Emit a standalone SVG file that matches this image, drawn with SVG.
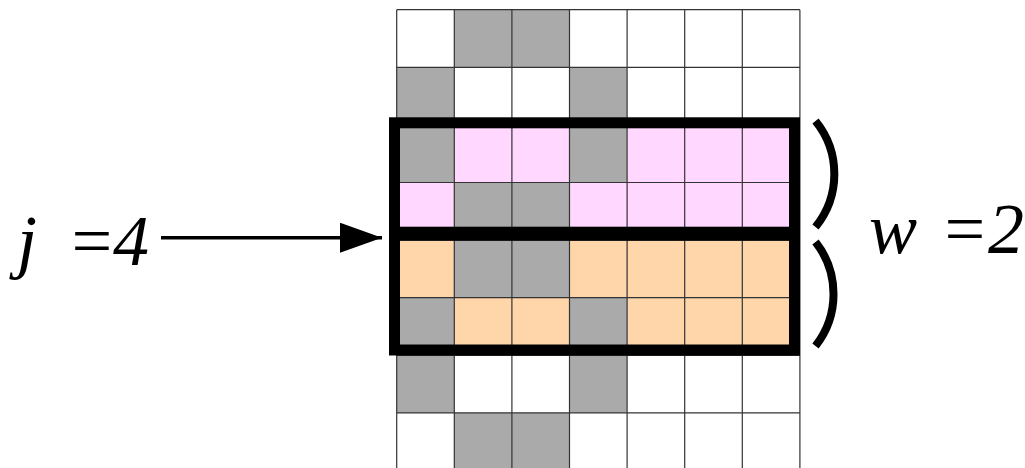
<svg xmlns="http://www.w3.org/2000/svg" width="1025" height="468" viewBox="0 0 1025 468">
<style>
.w{fill:#ffffff}
.g{fill:#aaaaaa}
.p{fill:#ffd7ff}
.o{fill:#ffd5aa}
.grid line{stroke:#333333;stroke-width:1.2}
.box{fill:none;stroke:#000000;stroke-width:11}
.brace{fill:none;stroke:#000000;stroke-width:8}
</style>
<defs>
<marker id="ah" markerUnits="userSpaceOnUse" markerWidth="44" markerHeight="30" refX="42" refY="15" orient="auto">
<path d="M0,0 L42,15 L0,30 Z" fill="#000000"/>
</marker>
</defs>
<rect width="1025" height="468" fill="#ffffff"/>
<g id="cells">
<rect class="w" x="396.7" y="9.7" width="57.6" height="57.6"/>
<rect class="g" x="454.3" y="9.7" width="57.6" height="57.6"/>
<rect class="g" x="511.9" y="9.7" width="57.6" height="57.6"/>
<rect class="w" x="569.5" y="9.7" width="230.4" height="57.6"/>
<rect class="g" x="396.7" y="67.3" width="57.6" height="57.6"/>
<rect class="w" x="454.3" y="67.3" width="115.2" height="57.6"/>
<rect class="g" x="569.5" y="67.3" width="57.6" height="57.6"/>
<rect class="w" x="627.1" y="67.3" width="172.8" height="57.6"/>
<rect class="g" x="396.7" y="124.9" width="57.6" height="57.6"/>
<rect class="p" x="454.3" y="124.9" width="115.2" height="57.6"/>
<rect class="g" x="569.5" y="124.9" width="57.6" height="57.6"/>
<rect class="p" x="627.1" y="124.9" width="172.8" height="57.6"/>
<rect class="p" x="396.7" y="182.5" width="57.6" height="57.6"/>
<rect class="g" x="454.3" y="182.5" width="115.2" height="57.6"/>
<rect class="p" x="569.5" y="182.5" width="230.4" height="57.6"/>
<rect class="o" x="396.7" y="240.1" width="57.6" height="57.6"/>
<rect class="g" x="454.3" y="240.1" width="115.2" height="57.6"/>
<rect class="o" x="569.5" y="240.1" width="230.4" height="57.6"/>
<rect class="g" x="396.7" y="297.7" width="57.6" height="57.6"/>
<rect class="o" x="454.3" y="297.7" width="115.2" height="57.6"/>
<rect class="g" x="569.5" y="297.7" width="57.6" height="57.6"/>
<rect class="o" x="627.1" y="297.7" width="172.8" height="57.6"/>
<rect class="g" x="396.7" y="355.3" width="57.6" height="57.6"/>
<rect class="w" x="454.3" y="355.3" width="115.2" height="57.6"/>
<rect class="g" x="569.5" y="355.3" width="57.6" height="57.6"/>
<rect class="w" x="627.1" y="355.3" width="172.8" height="57.6"/>
<rect class="w" x="396.7" y="412.9" width="57.6" height="57.6"/>
<rect class="g" x="454.3" y="412.9" width="115.2" height="57.6"/>
<rect class="w" x="569.5" y="412.9" width="230.4" height="57.6"/>
</g>
<g id="grid" class="grid">
<line x1="396.7" y1="9.7" x2="396.7" y2="468"/>
<line x1="454.3" y1="9.7" x2="454.3" y2="468"/>
<line x1="511.9" y1="9.7" x2="511.9" y2="468"/>
<line x1="569.5" y1="9.7" x2="569.5" y2="468"/>
<line x1="627.1" y1="9.7" x2="627.1" y2="468"/>
<line x1="684.7" y1="9.7" x2="684.7" y2="468"/>
<line x1="742.3" y1="9.7" x2="742.3" y2="468"/>
<line x1="799.9" y1="9.7" x2="799.9" y2="468"/>
<line x1="396.7" y1="9.7" x2="799.9" y2="9.7"/>
<line x1="396.7" y1="67.3" x2="799.9" y2="67.3"/>
<line x1="396.7" y1="124.9" x2="799.9" y2="124.9"/>
<line x1="396.7" y1="182.5" x2="799.9" y2="182.5"/>
<line x1="396.7" y1="240.1" x2="799.9" y2="240.1"/>
<line x1="396.7" y1="297.7" x2="799.9" y2="297.7"/>
<line x1="396.7" y1="355.3" x2="799.9" y2="355.3"/>
<line x1="396.7" y1="412.9" x2="799.9" y2="412.9"/>
</g>
<g id="window-upper">
<rect class="box" x="394.5" y="122.8" width="400" height="109.4"/>
</g>
<g id="window-lower">
<rect class="box" x="394.5" y="235.2" width="400" height="114.8"/>
</g>
<g id="braces">
<path class="brace" d="M815.5,121 A84,84 0 0 1 815.5,227"/>
<path class="brace" d="M815.5,242 A84,84 0 0 1 815.5,346"/>
</g>
<g id="connectors">
<line x1="161" y1="237.7" x2="382" y2="237.7" stroke="#000000" stroke-width="3.5" marker-end="url(#ah)"/>
</g>
<g id="label-j">
<text font-family="'Liberation Serif', 'Times New Roman', serif" font-style="italic" font-size="72" fill="#000000" x="17 33 67 113" y="265">j =4</text>
</g>
<g id="label-w">
<text font-family="'Liberation Serif', 'Times New Roman', serif" font-style="italic" font-size="72" fill="#000000" x="869 915 940 988" y="253">w =2</text>
</g>
</svg>
